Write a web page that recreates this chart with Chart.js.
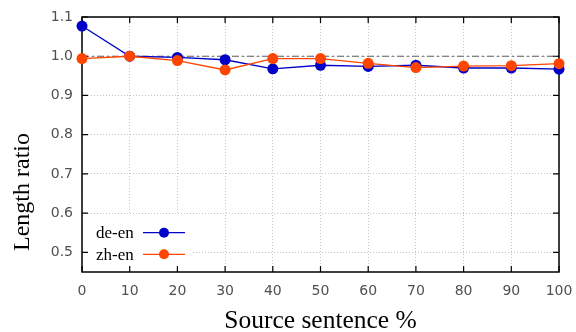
<!DOCTYPE html>
<html>
<head>
<meta charset="utf-8">
<script src="https://cdn.jsdelivr.net/npm/chart.js@4/dist/chart.umd.min.js"></script>
<style>
  html, body { margin: 0; padding: 0; background: #fff; }
  #wrap { width: 576px; height: 332px; }
</style>
</head>
<body>
<div id="wrap"><canvas id="c" width="576" height="332"></canvas></div>
<script>
// Share of source sentence used (%), and the resulting length ratio per language pair
const sourcePct = [0, 10, 20, 30, 40, 50, 60, 70, 80, 90, 100];
const deEn = [1.077, 1.000, 0.997, 0.991, 0.968, 0.977, 0.974, 0.977, 0.970, 0.970, 0.967];
const zhEn = [0.994, 1.000, 0.989, 0.965, 0.994, 0.994, 0.982, 0.971, 0.975, 0.976, 0.981];
const referenceRatio = 1.0;

const xTicks = [0, 10, 20, 30, 40, 50, 60, 70, 80, 90, 100];
const yTicks = [0.5, 0.6, 0.7, 0.8, 0.9, 1.0, 1.1];

const xTitle = 'Source sentence %';
const yTitle = 'Length ratio';

const BLUE = '#0000c8';
const ORANGE = '#ff4500';
const SERIF = '"Liberation Serif", "Times New Roman", serif';

// Gnuplot-like frame: reference line, inward ticks on all sides, legend backdrop
const framePlugin = {
  id: 'frame',
  beforeDatasetsDraw(chart) {
    const { ctx, chartArea: a, scales: { x, y } } = chart;
    ctx.save();
    // opaque legend box hides the grid behind the key
    ctx.fillStyle = '#fff';
    ctx.fillRect(a.left + 1, a.bottom - 57, 110, 56);

    // dash-dot reference at ratio 1
    const ry = y.getPixelForValue(referenceRatio);
    ctx.strokeStyle = '#5e5e5e';
    ctx.lineWidth = 1;
    ctx.setLineDash([7, 3, 2, 3]);
    ctx.beginPath();
    ctx.moveTo(a.left, ry);
    ctx.lineTo(a.right, ry);
    ctx.stroke();
    ctx.setLineDash([]);

    // border
    ctx.strokeStyle = '#000';
    ctx.lineWidth = 1.5;
    ctx.strokeRect(a.left, a.top, a.right - a.left, a.bottom - a.top);

    // inward ticks
    ctx.lineWidth = 1.2;
    ctx.beginPath();
    xTicks.forEach(v => {
      const px = x.getPixelForValue(v);
      ctx.moveTo(px, a.bottom); ctx.lineTo(px, a.bottom - 6);
      ctx.moveTo(px, a.top); ctx.lineTo(px, a.top + 6);
    });
    yTicks.forEach(v => {
      const py = y.getPixelForValue(v);
      ctx.moveTo(a.left, py); ctx.lineTo(a.left + 6, py);
      ctx.moveTo(a.right, py); ctx.lineTo(a.right - 6, py);
    });
    ctx.stroke();
    ctx.restore();
  },
  afterDraw(chart) {
    const { ctx, chartArea: a } = chart;
    ctx.save();
    // key: label, then line sample with marker
    ctx.font = '17px ' + SERIF;
    ctx.textAlign = 'left';
    ctx.textBaseline = 'alphabetic';
    chart.data.datasets.forEach((ds, i) => {
      const rowY = a.bottom - 39.3 + i * 21.6;
      ctx.fillStyle = '#000';
      ctx.fillText(ds.label, a.left + 14, rowY + 5.5);
      ctx.strokeStyle = ds.borderColor;
      ctx.lineWidth = 1.2;
      ctx.beginPath();
      ctx.moveTo(a.left + 61, rowY);
      ctx.lineTo(a.left + 103, rowY);
      ctx.stroke();
      ctx.fillStyle = ds.pointBackgroundColor;
      ctx.beginPath();
      ctx.arc(a.left + 82, rowY, 5, 0, Math.PI * 2);
      ctx.fill();
    });

    // axis titles
    ctx.fillStyle = '#000';
    ctx.textAlign = 'center';
    ctx.font = '25.5px ' + SERIF;
    ctx.fillText(xTitle, (a.left + a.right) / 2, 328);
    ctx.font = '24px ' + SERIF;
    ctx.translate(29, 192);
    ctx.rotate(-Math.PI / 2);
    ctx.fillText(yTitle, 0, 0);
    ctx.restore();
  }
};

const tickFont = { family: '"DejaVu Sans", sans-serif', size: 14 };

new Chart(document.getElementById('c'), {
  type: 'line',
  data: {
    labels: sourcePct,
    datasets: [
      {
        label: 'de-en',
        data: sourcePct.map((p, i) => ({ x: p, y: deEn[i] })),
        borderColor: BLUE,
        backgroundColor: BLUE,
        pointBackgroundColor: BLUE,
        pointBorderColor: BLUE,
        borderWidth: 1.3,
        pointRadius: 5.5,
        pointBorderWidth: 0,
        tension: 0,
        clip: false,
        order: 1
      },
      {
        label: 'zh-en',
        data: sourcePct.map((p, i) => ({ x: p, y: zhEn[i] })),
        borderColor: ORANGE,
        backgroundColor: ORANGE,
        pointBackgroundColor: ORANGE,
        pointBorderColor: ORANGE,
        borderWidth: 1.3,
        pointRadius: 5.5,
        pointBorderWidth: 0,
        tension: 0,
        clip: false,
        order: 0
      }
    ]
  },
  options: {
    responsive: false,
    devicePixelRatio: 1,
    animation: false,
    events: [],
    layout: { padding: { top: 17, right: 17, left: 0, bottom: 0 } },
    plugins: { legend: { display: false }, tooltip: { enabled: false } },
    scales: {
      x: {
        type: 'linear',
        min: 0,
        max: 100,
        afterBuildTicks: s => { s.ticks = xTicks.map(v => ({ value: v })); },
        afterFit: s => { s.height = 60; s.paddingLeft = 0; s.paddingRight = 0; },
        grid: { color: '#c4c4c4', lineWidth: 1, drawTicks: false },
        border: { display: false, dash: [1, 2] },
        ticks: { font: tickFont, color: '#505050', padding: 11, maxRotation: 0 }
      },
      y: {
        min: 0.45,
        max: 1.1,
        afterBuildTicks: s => { s.ticks = yTicks.map(v => ({ value: v })); },
        afterFit: s => { s.width = 82; s.paddingTop = 0; s.paddingBottom = 0; },
        grid: { color: '#c4c4c4', lineWidth: 1, drawTicks: false },
        border: { display: false, dash: [1, 2] },
        ticks: { font: tickFont, color: '#505050', padding: 9 }
      }
    }
  },
  plugins: [framePlugin]
});
</script>
</body>
</html>
